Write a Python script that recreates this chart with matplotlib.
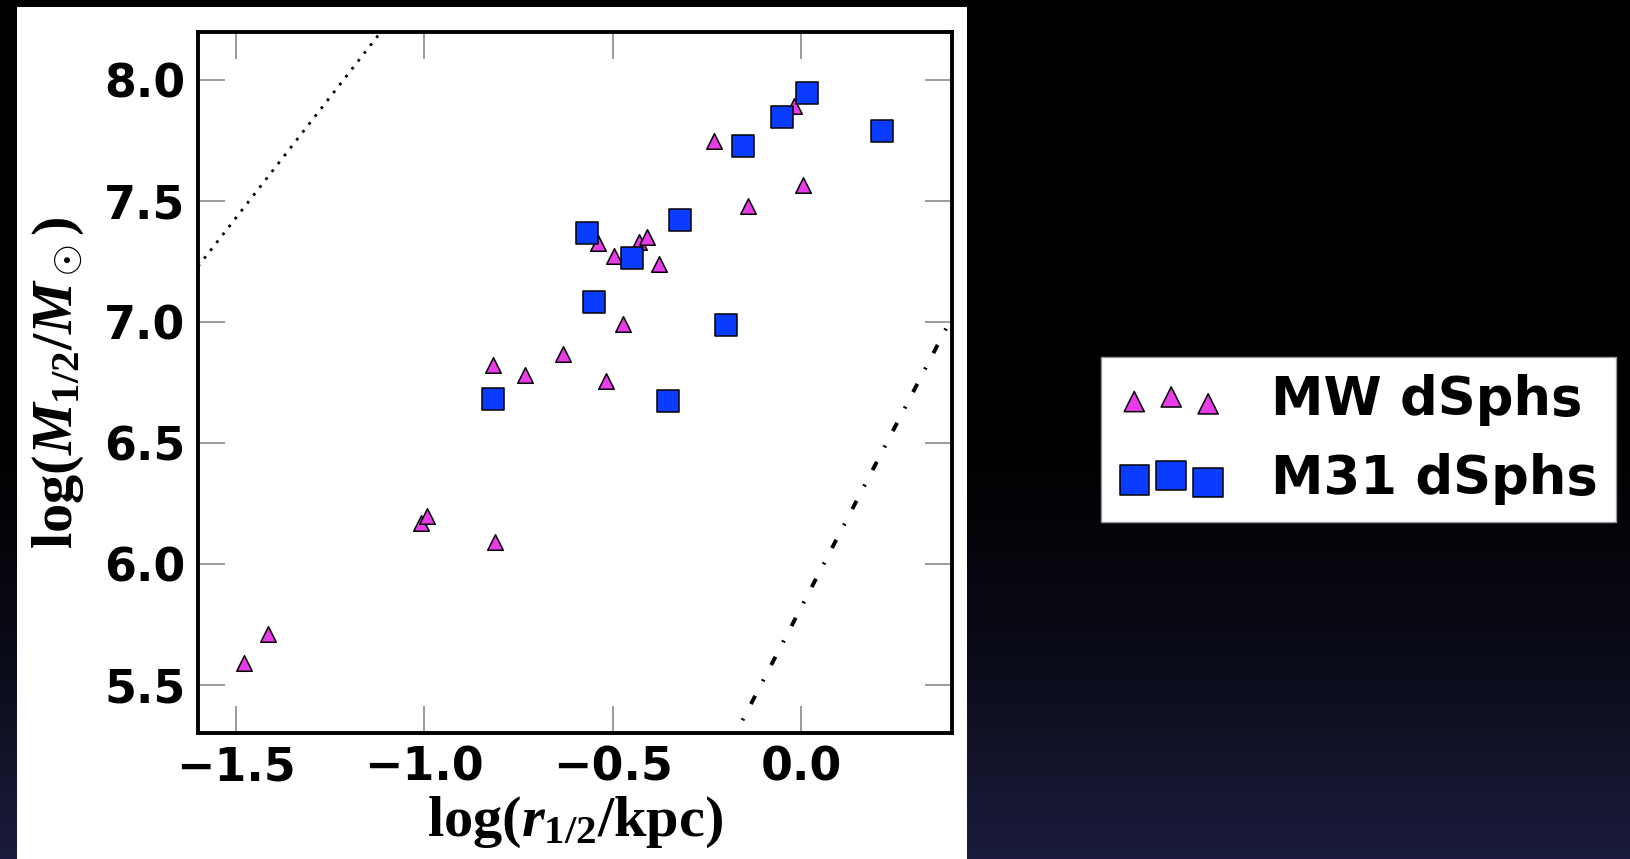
import matplotlib
matplotlib.use('Agg')
import matplotlib.pyplot as plt
import numpy as np
from matplotlib.patches import Rectangle

#data
mw_logr = [-1.479, -1.413, -1.008, -0.993, -0.813, -0.817, -0.732, -0.632, -0.518,
           -0.474, -0.538, -0.497, -0.430, -0.409, -0.378, -0.232, -0.142, 0.006, -0.020]
mw_logm = [5.59, 5.71, 6.167, 6.198, 6.09, 6.824, 6.78, 6.866, 6.755,
           6.993, 7.329, 7.274, 7.332, 7.353, 7.239, 7.748, 7.481, 7.568, 7.892]

m31_logr = [0.016, -0.051, 0.213, -0.155, -0.321, -0.568, -0.449, -0.55, -0.199, -0.817, -0.352]
m31_logm = [7.947, 7.848, 7.79, 7.73, 7.423, 7.368, 7.263, 7.084, 6.986, 6.682, 6.672]

#reference lines: log M = slope*log r + intercept
line_slopes = [2.0, 3.0]
line_intercepts = [10.43, 5.82]

xlim = (-1.6, 0.4)
ylim = (5.3, 8.2)
xticks = [-1.5, -1.0, -0.5, 0.0]
yticks = [5.5, 6.0, 6.5, 7.0, 7.5, 8.0]

plt.rcParams['mathtext.fontset'] = 'custom'
plt.rcParams['mathtext.rm'] = 'Liberation Serif:bold'
plt.rcParams['mathtext.it'] = 'Liberation Serif:italic:bold'
plt.rcParams['mathtext.bf'] = 'Liberation Serif:bold'

W, H = 1630, 859
fig = plt.figure(figsize=(W/100, H/100), dpi=100)

#slide background: black fading to dark navy
bg = fig.add_axes([0, 0, 1, 1], zorder=-10)
t = np.clip((np.arange(H) - 380) / (H - 380), 0, 1) ** 1.6
bottom_col = np.array([0.105, 0.11, 0.24])
grad = t[:, None, None] * bottom_col[None, None, :] * np.ones((1, 2, 1))
bg.imshow(grad, aspect='auto', extent=[0, 1, 0, 1], origin='upper')
bg.axis('off')

#white panel behind the plot
fig.patches.append(Rectangle((17/W, 0), 950/W, (H-7)/H, transform=fig.transFigure,
                             facecolor='white', edgecolor='none', zorder=-5))

ax = fig.add_axes([198/W, (H-733)/H, (952-198)/W, (733-32)/H])

xs = np.array(xlim)
ax.plot(xs, line_slopes[0]*xs + line_intercepts[0], color='black', lw=2.0,
        linestyle=(0, (1, 2.6)))
ax.plot(xs, line_slopes[1]*xs + line_intercepts[1], color='black', lw=2.8,
        linestyle=(0, (2.4, 4.2, 0.5, 4.2)))

mw = ax.scatter(mw_logr, mw_logm, s=125, marker='^', c='#e83ce8', edgecolors='black',
                linewidths=1.1, zorder=3, label='MW dSphs')
m31 = ax.scatter(m31_logr, m31_logm, s=265, marker='s', c='#0a3cff', edgecolors='black',
                 linewidths=1.1, zorder=4, label='M31 dSphs')

ax.set_xlim(xlim)
ax.set_ylim(ylim)
ax.set_xticks(xticks)
ax.set_yticks(yticks)
ax.set_xticklabels([('%.1f' % v).replace('-', '\u2212') for v in xticks])
ax.set_yticklabels(['%.1f' % v for v in yticks])
ax.tick_params(direction='in', length=19.5, width=1.1, color='#808080',
               top=True, right=True, labelsize=33, pad=9)
for lab in ax.get_xticklabels() + ax.get_yticklabels():
    lab.set_fontweight('bold')
for sp in ax.spines.values():
    sp.set_linewidth(2.8)

ax.set_xlabel(r'$\mathrm{log}(r_{1/2}/\mathrm{kpc})$', fontsize=42)
ax.set_ylabel(r'$\mathrm{log}(M_{1/2}/M_\odot)$', fontsize=42)
ax.xaxis.set_label_coords(0.5, -0.085)
ax.yaxis.set_label_coords(-0.148, 0.5)

leg = fig.legend(handles=[mw, m31], loc='upper left', bbox_to_anchor=(1101/W, 1-357/H),
                 prop={'weight': 'bold', 'size': 38, 'family': 'DejaVu Sans'},
                 scatterpoints=3, markerscale=1.3, handlelength=2.0, handletextpad=0.9,
                 borderpad=0.33, labelspacing=0.5, fancybox=False, framealpha=1,
                 borderaxespad=0)
leg.get_frame().set_edgecolor('#999999')
leg.get_frame().set_linewidth(1.0)

plt.savefig('out.png', dpi=100)
